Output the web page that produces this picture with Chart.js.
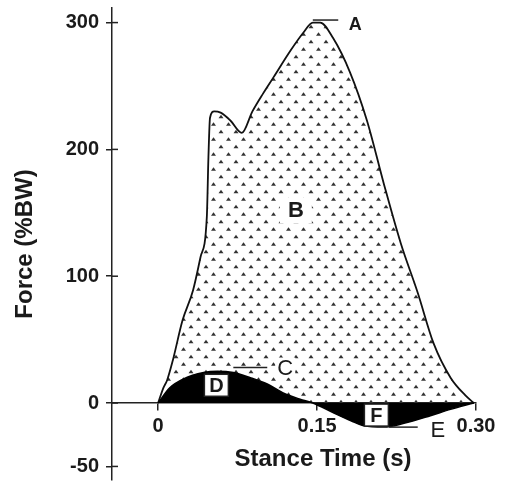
<!DOCTYPE html>
<html>
<head>
<meta charset="utf-8">
<script src="https://cdn.jsdelivr.net/npm/chart.js@4"></script>
<style>
  body { margin: 0; background: #fff; }
</style>
</head>
<body>
<canvas id="forceChart" width="508" height="486"></canvas>
<script>
// vertical force (dotted area)
const vertTime = [0, 0.005, 0.0085, 0.014, 0.023, 0.033, 0.040, 0.046, 0.0475, 0.049, 0.053, 0.059, 0.068, 0.079, 0.089, 0.099, 0.109, 0.125, 0.137, 0.146, 0.153, 0.165, 0.181, 0.197, 0.213, 0.229, 0.245, 0.260, 0.276, 0.290, 0.298];
const vertForce = [0, 12, 18, 34, 65, 89, 115, 147, 194, 225, 230, 229, 223, 213, 230, 244, 257, 278, 292, 300, 300, 288, 261, 223, 173, 126, 87, 47, 20, 6, 0];

// fore-aft force (black area)
const apTime = [0, 0.011, 0.024, 0.043, 0.056, 0.071, 0.087, 0.103, 0.118, 0.134, 0.146, 0.166, 0.182, 0.194, 0.213, 0.232, 0.257, 0.276, 0.298];
const apForce = [0, 12, 19, 24, 25, 24, 20, 15, 8, 3, 0, -8, -14, -18, -19, -16, -10, -5, 0];

const xTicks = [0, 0.15, 0.30];
const xTickLabels = ['0', '0.15', '0.30'];
const yTicks = [-50, 0, 100, 200, 300];
const yTickLabels = ['-50', '0', '100', '200', '300'];

// letters put on the figure, in data units
const notes = [
  { text: 'A', x: 0.186, y: 299, size: 18, bold: true, line: [0.146, 0.170, 302] },
  { text: 'B', x: 0.130, y: 152, size: 22, bold: true, clear: [32, 26] },
  { text: 'C', x: 0.120, y: 28, size: 22, clear: [20, 20], line: [0.071, 0.103, 28] },
  { text: 'D', x: 0.055, y: 14, size: 20, bold: true, box: true },
  { text: 'E', x: 0.264, y: -21, size: 22, line: [0.218, 0.245, -19] },
  { text: 'F', x: 0.206, y: -9.5, size: 20, bold: true, box: true }
];

Chart.defaults.font.family = '"Liberation Sans", Arial, sans-serif';
Chart.defaults.color = '#1a1a1a';

function dotPattern() {
  const c = document.createElement('canvas');
  c.width = 15;
  c.height = 15;
  const g = c.getContext('2d');
  g.fillStyle = '#333';
  [[3.5, 4], [11, 11.5]].forEach(([x, y]) => {
    g.beginPath();
    g.moveTo(x - 2.5, y + 1.8);
    g.lineTo(x, y - 1.8);
    g.lineTo(x + 2.5, y + 1.8);
    g.closePath();
    g.fill();
  });
  return g.createPattern(c, 'repeat');
}

const notesPlugin = {
  id: 'notes',
  afterDraw(chart) {
    const { ctx, chartArea } = chart;
    const x = chart.scales.x;
    const y = chart.scales.y;
    ctx.save();
    ctx.strokeStyle = '#222';
    ctx.lineWidth = 1.5;
    // inner half of the y ticks
    yTicks.forEach(v => {
      const py = y.getPixelForValue(v);
      ctx.beginPath();
      ctx.moveTo(chartArea.left, py);
      ctx.lineTo(chartArea.left + 6, py);
      ctx.stroke();
    });

    ctx.textAlign = 'center';
    ctx.textBaseline = 'middle';
    notes.forEach(n => {
      const px = x.getPixelForValue(n.x);
      const py = y.getPixelForValue(n.y);
      if (n.clear) {
        ctx.fillStyle = '#fff';
        ctx.fillRect(px - n.clear[0] / 2, py - n.clear[1] / 2, n.clear[0], n.clear[1]);
      }
      if (n.line) {
        const ly = y.getPixelForValue(n.line[2]);
        ctx.beginPath();
        ctx.moveTo(x.getPixelForValue(n.line[0]), ly);
        ctx.lineTo(x.getPixelForValue(n.line[1]), ly);
        ctx.stroke();
      }
      if (n.box) {
        ctx.fillStyle = '#fff';
        ctx.fillRect(px - 12, py - 11, 24, 22);
        ctx.strokeRect(px - 12, py - 11, 24, 22);
      }
      ctx.fillStyle = '#1a1a1a';
      ctx.font = (n.bold ? 'bold ' : '') + n.size + 'px "Liberation Sans", Arial, sans-serif';
      ctx.fillText(n.text, px, py + 1);
    });

    ctx.font = 'bold 24px "Liberation Sans", Arial, sans-serif';
    ctx.fillText('Stance Time (s)', 323, 459);
    ctx.restore();
  }
};

const tickFont = { size: 20, weight: 'bold' };

new Chart(document.querySelector('#forceChart'), {
  type: 'line',
  data: {
    datasets: [
      {
        label: 'Fore-aft',
        data: apTime.map((t, i) => ({ x: t, y: apForce[i] })),
        borderColor: '#000',
        borderWidth: 1.5,
        backgroundColor: '#000',
        fill: 'origin',
        pointRadius: 0,
        cubicInterpolationMode: 'monotone',
        order: 0
      },
      {
        label: 'Vertical',
        data: vertTime.map((t, i) => ({ x: t, y: vertForce[i] })),
        borderColor: '#111',
        borderWidth: 1.8,
        backgroundColor: dotPattern(),
        fill: 'origin',
        pointRadius: 0,
        cubicInterpolationMode: 'monotone',
        order: 1
      }
    ]
  },
  options: {
    responsive: false,
    animation: false,
    layout: { padding: { left: 0, top: 8, right: 32, bottom: 6 } },
    plugins: {
      legend: { display: false },
      tooltip: { enabled: false }
    },
    scales: {
      x: {
        type: 'linear',
        position: { y: 0 },
        min: -0.0435,
        max: 0.30,
        afterBuildTicks: s => { s.ticks = xTicks.map(v => ({ value: v })); },
        ticks: {
          callback: (v, i) => xTickLabels[i],
          font: tickFont,
          padding: 4,
          maxRotation: 0,
          autoSkip: false
        },
        grid: { drawOnChartArea: false, tickLength: 7, color: '#222', lineWidth: 1.5 },
        border: { color: '#222', width: 1.5 }
      },
      y: {
        type: 'linear',
        min: -60.7,
        max: 311.5,
        afterFit: s => {
          s.width = 112;
          s.paddingTop = 0;
          s.paddingBottom = 0;
        },
        afterBuildTicks: s => { s.ticks = yTicks.map(v => ({ value: v })); },
        ticks: {
          callback: (v, i) => yTickLabels[i],
          font: tickFont,
          padding: 7,
          autoSkip: false
        },
        grid: { drawOnChartArea: false, tickLength: 6, color: '#222', lineWidth: 1.5 },
        border: { color: '#222', width: 1.5 },
        title: {
          display: true,
          text: 'Force (%BW)',
          font: { size: 24, weight: 'bold' },
          padding: { top: 11, bottom: 0 }
        }
      }
    }
  },
  plugins: [notesPlugin]
});
</script>
</body>
</html>
